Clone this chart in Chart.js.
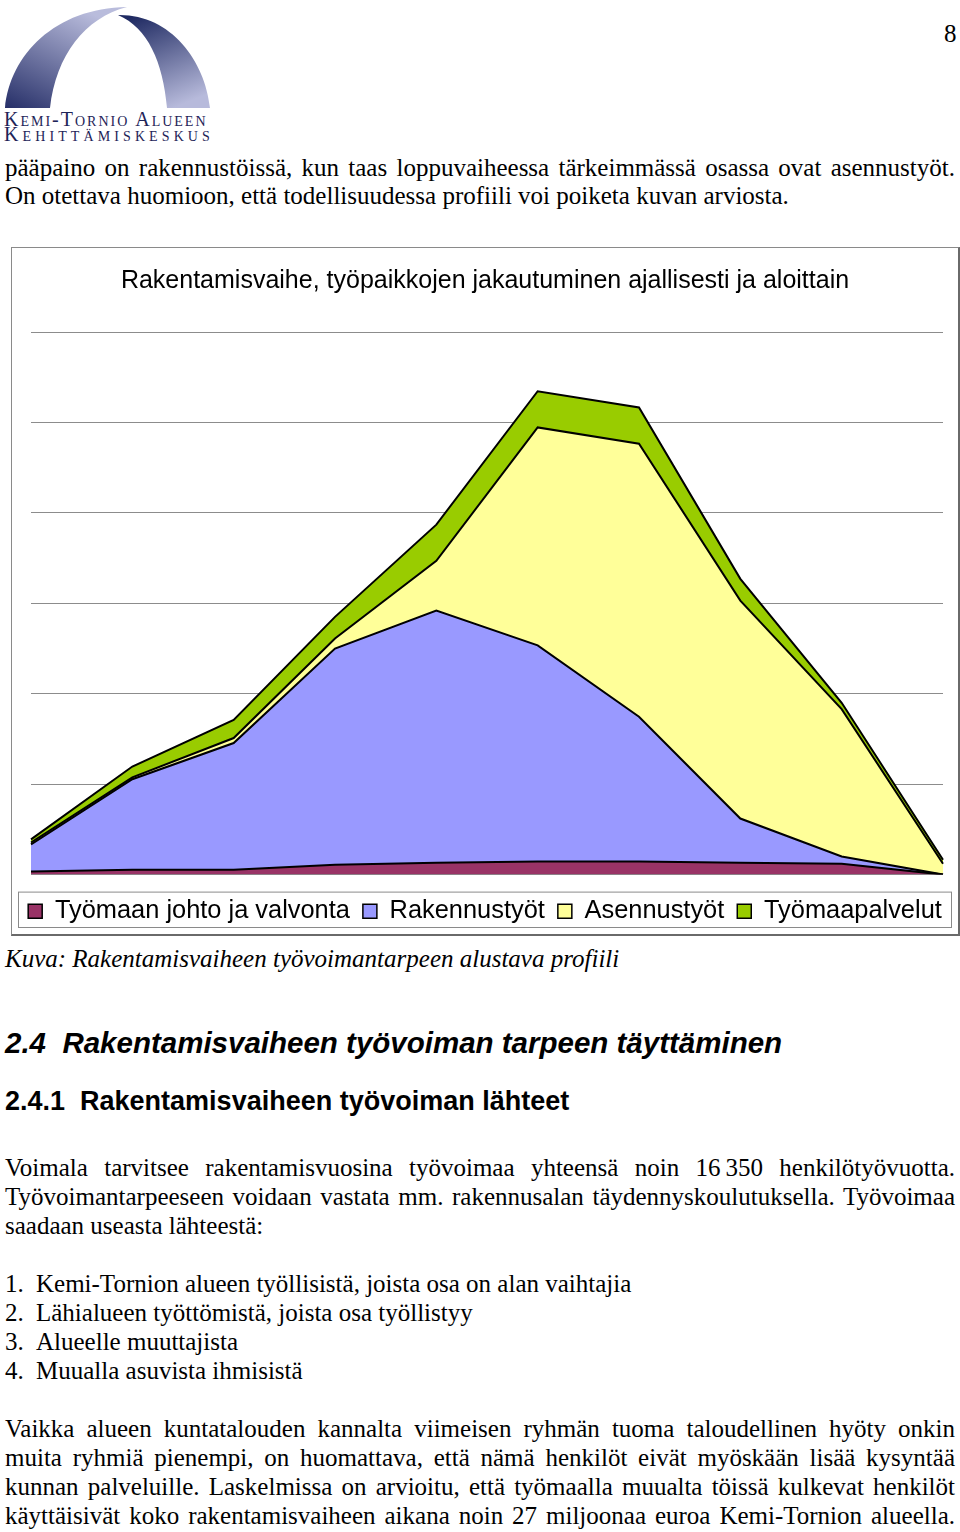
<!DOCTYPE html>
<html>
<head>
    <meta charset="utf-8">
    <title>Rakentamisvaihe</title>
    <style>
        body {
            margin: 0;
            background: #fff;
        }

        #page {
            position: relative;
            width: 960px;
            height: 1532px;
            overflow: hidden;
            font-family: "Liberation Serif", serif;
            color: #000;
        }

        .ln {
            position: absolute;
            left: 5px;
            width: 950px;
            font-size: 25px;
            line-height: 29px;
        }

        .j {
            text-align: justify;
            text-align-last: justify;
        }

        .num {
            display: inline-block;
            width: 31px;
        }

        #chartBox {
            position: absolute;
            left: 11px;
            top: 247px;
            width: 946px;
            height: 686px;
            border: 1px solid #8a8a8a;
            border-right: 2px solid #6a6a6a;
            border-bottom: 2px solid #6a6a6a;
        }

        #logoText {
            position: absolute;
            left: 4px;
            top: 112px;
            font-variant: small-caps;
            color: #1e2458;
            font-size: 20px;
            line-height: 15px;
        }
    </style>
</head>
<body>
<div id="page">
    <svg width="220" height="112" style="position:absolute;left:0;top:0">
        <defs>
            <linearGradient id="gl" x1="0" y1="1" x2="0.6" y2="0">
                <stop offset="0" stop-color="#262f68"/>
                <stop offset="1" stop-color="#b9bcdc"/>
            </linearGradient>
            <linearGradient id="gr" x1="0.2" y1="0" x2="0.6" y2="1">
                <stop offset="0" stop-color="#1f2a62"/>
                <stop offset="1" stop-color="#b7badb"/>
            </linearGradient>
        </defs>
        <path d="M5,108 C10,55 55,8 127,7 C85,18 56,55 50,108 Z" fill="url(#gl)"/>
        <path d="M118,15 C170,14 205,60 210,108 L167,108 C163,62 148,28 118,15 Z" fill="url(#gr)"/>
    </svg>
    <div id="logoText">
        <div style="letter-spacing:2.0px">Kemi-Tornio Alueen</div>
        <div style="letter-spacing:4.1px">Kehittämiskeskus</div>
    </div>
    <div class="ln" style="top:19px;left:944px;width:20px">8</div>

    <div class="ln j" style="top:153px">pääpaino on rakennustöissä, kun taas loppuvaiheessa tärkeimmässä osassa ovat asennustyöt.</div>
    <div class="ln" style="top:181px">On otettava huomioon, että todellisuudessa profiili voi poiketa kuvan arviosta.</div>

    <div id="chartBox">
        <canvas id="areaChart"></canvas>
    </div>

    <div class="ln" style="top:944px;font-style:italic">Kuva: Rakentamisvaiheen työvoimantarpeen alustava profiili</div>

    <div class="ln" style="top:1026px;font-family:'Liberation Sans',sans-serif;font-weight:bold;font-style:italic;font-size:29.5px;line-height:34px">2.4&nbsp;&nbsp;Rakentamisvaiheen työvoiman tarpeen täyttäminen</div>
    <div class="ln" style="top:1085px;font-family:'Liberation Sans',sans-serif;font-weight:bold;font-size:27px;line-height:32px">2.4.1&nbsp;&nbsp;Rakentamisvaiheen työvoiman lähteet</div>

    <div class="ln j" style="top:1153px">Voimala tarvitsee rakentamisvuosina työvoimaa yhteensä noin 16&#8201;350 henkilötyövuotta.</div>
    <div class="ln j" style="top:1182px">Työvoimantarpeeseen voidaan vastata mm. rakennusalan täydennyskoulutuksella. Työvoimaa</div>
    <div class="ln" style="top:1211px">saadaan useasta lähteestä:</div>

    <div class="ln" style="top:1269px"><span class="num">1.</span>Kemi-Tornion alueen työllisistä, joista osa on alan vaihtajia</div>
    <div class="ln" style="top:1298px"><span class="num">2.</span>Lähialueen työttömistä, joista osa työllistyy</div>
    <div class="ln" style="top:1327px"><span class="num">3.</span>Alueelle muuttajista</div>
    <div class="ln" style="top:1356px"><span class="num">4.</span>Muualla asuvista ihmisistä</div>

    <div class="ln j" style="top:1414px">Vaikka alueen kuntatalouden kannalta viimeisen ryhmän tuoma taloudellinen hyöty onkin</div>
    <div class="ln j" style="top:1443px">muita ryhmiä pienempi, on huomattava, että nämä henkilöt eivät myöskään lisää kysyntää</div>
    <div class="ln j" style="top:1472px">kunnan palveluille. Laskelmissa on arvioitu, että työmaalla muualta töissä kulkevat henkilöt</div>
    <div class="ln j" style="top:1501px">käyttäisivät koko rakentamisvaiheen aikana noin 27 miljoonaa euroa Kemi-Tornion alueella.</div>
</div>

<script src="https://cdn.jsdelivr.net/npm/chart.js"></script>
<script>
    // aikajaksot, arvot luettu kuvasta
    var jaksot = ['1', '2', '3', '4', '5', '6', '7', '8', '9', '10'];
    var johto = [0.35, 0.55, 0.55, 1.1, 1.3, 1.45, 1.45, 1.3, 1.2, 0];
    var rakennus = [3.0, 10.0, 14.0, 23.9, 27.9, 23.9, 16.0, 4.9, 0.8, 0];
    var asennus = [0.2, 0.2, 0.55, 1.1, 5.5, 24.1, 30.2, 24.1, 16.3, 1.2];
    var palvelut = [0.35, 1.2, 2.0, 2.4, 4.0, 4.0, 4.0, 2.4, 0.7, 0.45];
    var yTicks = [0, 10, 20, 30, 40, 50, 60];

    var font = "'Liberation Sans', Arial, sans-serif";

    function sarja(label, data, color, fill) {
        return {
            label: label,
            data: data,
            backgroundColor: color,
            borderColor: '#000',
            borderWidth: 2,
            pointRadius: 0,
            tension: 0,
            fill: fill
        };
    }

    // kehys selitteen ympärille
    var legendFrame = {
        id: 'legendFrame',
        afterDraw: function (chart) {
            var l = chart.legend;
            var c = chart.ctx;
            c.save();
            c.strokeStyle = '#8a8a8a';
            c.lineWidth = 1;
            c.strokeRect(6.5, l.top + 6.5, chart.width - 13, l.height - 13);
            c.restore();
        }
    };

    var ctx = document.getElementById('areaChart').getContext('2d');
    var areaChart = new Chart(ctx, {
        type: 'line',
        data: {
            labels: jaksot,
            datasets: [
                sarja('Työmaan johto ja valvonta', johto, '#993366', 'origin'),
                sarja('Rakennustyöt', rakennus, '#9999ff', '-1'),
                sarja('Asennustyöt', asennus, '#ffff99', '-1'),
                sarja('Työmaapalvelut', palvelut, '#99cc00', '-1')
            ]
        },
        options: {
            responsive: true,
            maintainAspectRatio: false,
            animation: false,
            layout: {
                padding: { left: 0, right: 0, top: 0, bottom: 0 }
            },
            scales: {
                x: {
                    display: true,
                    offset: false,
                    ticks: { display: false },
                    grid: { display: false },
                    border: { display: false },
                    afterFit: function (axis) { axis.height = 11; }
                },
                y: {
                    stacked: true,
                    min: 0,
                    max: 60,
                    afterBuildTicks: function (axis) {
                        axis.ticks = yTicks.map(function (v) { return { value: v }; });
                    },
                    ticks: { display: false },
                    grid: { color: '#8c8c8c', lineWidth: 1, drawTicks: false },
                    border: { display: false },
                    afterFit: function (axis) { axis.width = 19; }
                },
                // tyhjä akseli oikeaan reunaan, vain tilaa varten
                yOikea: {
                    position: 'right',
                    display: true,
                    ticks: { display: false },
                    grid: { display: false },
                    border: { display: false },
                    afterFit: function (axis) { axis.width = 15; }
                }
            },
            plugins: {
                title: {
                    display: true,
                    text: 'Rakentamisvaihe, työpaikkojen jakautuminen ajallisesti ja aloittain',
                    color: '#000',
                    font: { family: font, size: 25, weight: 'normal' },
                    padding: { top: 18, bottom: 36 }
                },
                legend: {
                    position: 'bottom',
                    labels: {
                        color: '#000',
                        font: { family: font, size: 25.4 },
                        boxWidth: 14,
                        boxHeight: 14,
                        padding: 13,
                        generateLabels: function (chart) {
                            var items = Chart.defaults.plugins.legend.labels.generateLabels(chart);
                            items.forEach(function (it) { it.lineWidth = 1.5; });
                            return items;
                        }
                    }
                },
                tooltip: { enabled: false }
            }
        },
        plugins: [legendFrame]
    });
</script>
</body>
</html>
